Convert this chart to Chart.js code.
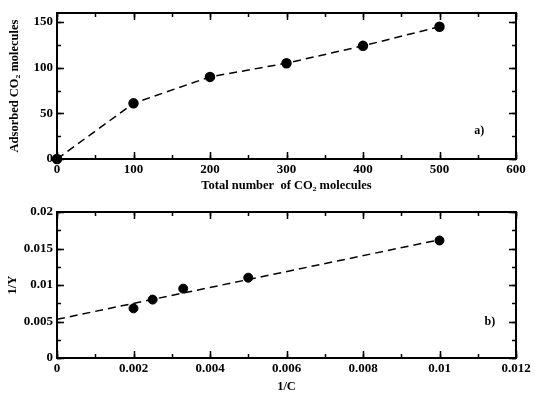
<!DOCTYPE html>
<html>
<head>
<meta charset="utf-8">
<script src="https://cdn.jsdelivr.net/npm/chart.js@4.4.0/dist/chart.umd.min.js"></script>
<style>
  body { margin: 0; background: #fff; }
  .box { position: absolute; left: 0; width: 535px; }
  #boxA { top: 0; height: 200px; }
  #boxB { top: 200px; height: 197px; }
</style>
</head>
<body>
<div class="box" id="boxA"><canvas id="chartAdsorbed"></canvas></div>
<div class="box" id="boxB"><canvas id="chartInverse"></canvas></div>
<script>
// panel a) adsorbed vs total
const totalCO2 = [0, 100, 200, 300, 400, 500];
const adsorbedCO2 = [0, 61, 90, 105, 124, 145];
const adsTicksX = [0, 100, 200, 300, 400, 500, 600];
const adsTicksY = [0, 50, 100, 150];

// panel b) 1/Y vs 1/C and its linear fit
const invC = [0.002, 0.0025, 0.0033, 0.005, 0.01];
const invY = [0.0068, 0.0080, 0.0095, 0.0110, 0.0161];
const fitC = [0, 0.01];
const fitY = [0.0053, 0.0162];
const invTicksX = [0, 0.002, 0.004, 0.006, 0.008, 0.01, 0.012];
const invTicksY = [0, 0.005, 0.01, 0.015, 0.02];

const serif = '"Liberation Serif", "Times New Roman", serif';
Chart.defaults.font.family = serif;
Chart.defaults.font.weight = 'bold';
Chart.defaults.font.size = 13;
Chart.defaults.color = '#000';

const toXY = (xs, ys) => xs.map((v, i) => ({x: v, y: ys[i]}));
const fmt = v => String(parseFloat(v.toFixed(4)));

/* frame with inward ticks on all 4 sides + panel tag */
const frameTicks = {
  id: 'frameTicks',
  afterDraw(chart, args, opts) {
    const {ctx, chartArea: a, scales: {x, y}} = chart;
    ctx.save();
    ctx.strokeStyle = '#000';
    ctx.lineWidth = 1.5;
    const xTicks = (step, len) => {
      const n = Math.round((x.max - x.min) / step);
      for (let i = 0; i <= n; i++) {
        const px = Math.round(x.getPixelForValue(x.min + i * step)) + 0.5;
        ctx.beginPath();
        ctx.moveTo(px, a.bottom); ctx.lineTo(px, a.bottom - len);
        ctx.moveTo(px, a.top); ctx.lineTo(px, a.top + len);
        ctx.stroke();
      }
    };
    const yTicks = (step, len) => {
      const n = Math.floor((y.max - y.min) / step + 1e-6);
      for (let i = 0; i <= n; i++) {
        const py = Math.round(y.getPixelForValue(y.min + i * step)) + 0.5;
        ctx.beginPath();
        ctx.moveTo(a.left, py); ctx.lineTo(a.left + len, py);
        ctx.moveTo(a.right, py); ctx.lineTo(a.right - len, py);
        ctx.stroke();
      }
    };
    xTicks(opts.xMajor, 7); xTicks(opts.xMajor / 2, 4);
    yTicks(opts.yMajor, 7); yTicks(opts.yMajor / 2, 4);
    ctx.lineWidth = 2;
    ctx.strokeRect(a.left, a.top, a.width, a.height);
    ctx.fillStyle = '#000';
    ctx.font = 'bold 12px ' + serif;
    ctx.textAlign = 'center';
    ctx.textBaseline = 'middle';
    ctx.fillText(opts.tag, a.left + a.width * opts.tagX, a.top + a.height * opts.tagY);
    ctx.restore();
  }
};

function axes(xMin, xMax, xVals, yMin, yMax, yVals, xTitle, yTitle, xH, yW, xPadB, yPadT) {
  return {
    x: {
      type: 'linear', min: xMin, max: xMax,
      grid: {display: false, drawTicks: false},
      border: {display: false},
      ticks: {padding: 3, maxRotation: 0, autoSkip: false, callback: fmt},
      afterBuildTicks: s => { s.ticks = xVals.map(v => ({value: v})); },
      title: {display: true, text: xTitle, font: {size: 12.5}, padding: {top: 0, bottom: xPadB}},
      afterFit: s => { s.height = xH; }
    },
    y: {
      type: 'linear', min: yMin, max: yMax,
      grid: {display: false, drawTicks: false},
      border: {display: false},
      ticks: {padding: 4, autoSkip: false, callback: fmt},
      afterBuildTicks: s => { s.ticks = yVals.map(v => ({value: v})); },
      title: {display: true, text: yTitle, font: {size: 12.5}, padding: {top: yPadT, bottom: 0}},
      afterFit: s => { s.width = yW; }
    }
  };
}

const dashed = {
  borderColor: '#000', borderWidth: 1.5, borderDash: [8, 5],
  backgroundColor: '#000', tension: 0, clip: false
};

var chartAdsorbed = new Chart(document.getElementById('chartAdsorbed'), {
  type: 'line',
  data: {
    datasets: [Object.assign({
      data: toXY(totalCO2, adsorbedCO2),
      pointRadius: 4.5, pointBackgroundColor: '#000', pointBorderColor: '#000'
    }, dashed)]
  },
  options: {
    responsive: true, maintainAspectRatio: false, animation: false,
    layout: {padding: {top: 13, right: 19, left: 0, bottom: 0}},
    plugins: {
      legend: {display: false}, tooltip: {enabled: false},
      frameTicks: {xMajor: 100, yMajor: 50, tag: 'a)', tagX: 0.92, tagY: 0.807}
    },
    scales: axes(0, 600, adsTicksX, 0, 160, adsTicksY,
      'Total number  of CO\u2082 molecules', 'Adsorbed CO\u2082 molecules', 41, 57, 7, 7)
  },
  plugins: [frameTicks]
});

var chartInverse = new Chart(document.getElementById('chartInverse'), {
  type: 'line',
  data: {
    datasets: [
      Object.assign({data: toXY(fitC, fitY), pointRadius: 0}, dashed),
      {
        data: toXY(invC, invY), showLine: false, clip: false,
        pointRadius: 4.5, pointBackgroundColor: '#000', pointBorderColor: '#000'
      }
    ]
  },
  options: {
    responsive: true, maintainAspectRatio: false, animation: false,
    layout: {padding: {top: 12, right: 19, left: 0, bottom: 0}},
    plugins: {
      legend: {display: false}, tooltip: {enabled: false},
      frameTicks: {xMajor: 0.002, yMajor: 0.005, tag: 'b)', tagX: 0.943, tagY: 0.75}
    },
    scales: axes(0, 0.012, invTicksX, 0, 0.02, invTicksY, '1/C', '1/Y', 39, 57, 3, 5)
  },
  plugins: [frameTicks]
});
</script>
</body>
</html>
